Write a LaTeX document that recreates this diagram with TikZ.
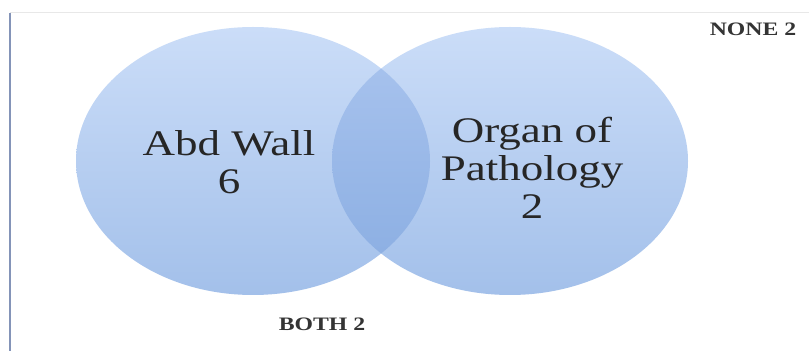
\documentclass[tikz,border=0pt]{standalone}
\usepackage{fontspec}
\setmainfont{Liberation Serif}
\usetikzlibrary{shapes.geometric}
\definecolor{ctop}{HTML}{CBDDF8}
\definecolor{cbot}{HTML}{A3C0EA}
\definecolor{ltop}{HTML}{ABC5EF}
\definecolor{lbot}{HTML}{88ACE1}
\definecolor{frameblue}{HTML}{8494B8}
\definecolor{txt}{HTML}{262626}
\tikzset{
  circ/.style={ellipse, inner sep=0pt, top color=ctop, bottom color=cbot, draw=none},
  bigtxt/.style={font=\fontsize{36}{38}\selectfont, align=center, text=txt, xscale=1.25},
  smalltxt/.style={font=\bfseries\fontsize{19}{22}\selectfont, text=txt!85!gray, xscale=1.25}
}
\begin{document}
\begin{tikzpicture}[x=1pt,y=1pt]
\useasboundingbox (0,0) rectangle (809,351);
\fill[white] (0,0) rectangle (809,351);
\draw[black!9, line width=1pt] (10,338) -- (809,338);
\draw[frameblue, line width=2pt] (10,338) -- (10,0);
\node[circ, minimum width=354, minimum height=268] (L) at (253,190) {};
\node[circ, minimum width=356, minimum height=268] (R) at (510,190) {};
\begin{scope}
  \clip (253,190) ellipse [x radius=177, y radius=134];
  \shade[top color=ltop, bottom color=lbot] (510,190) ellipse [x radius=178, y radius=134];
\end{scope}
\node[bigtxt] (lt) at (229,189) {Abd Wall\\6};
\node[bigtxt] (rt) at (532,183) {Organ of\\Pathology\\2};
\node[smalltxt] (none) at (753,322) {NONE 2};
\node[smalltxt] (both) at (322,27) {BOTH 2};
\end{tikzpicture}
\end{document}
